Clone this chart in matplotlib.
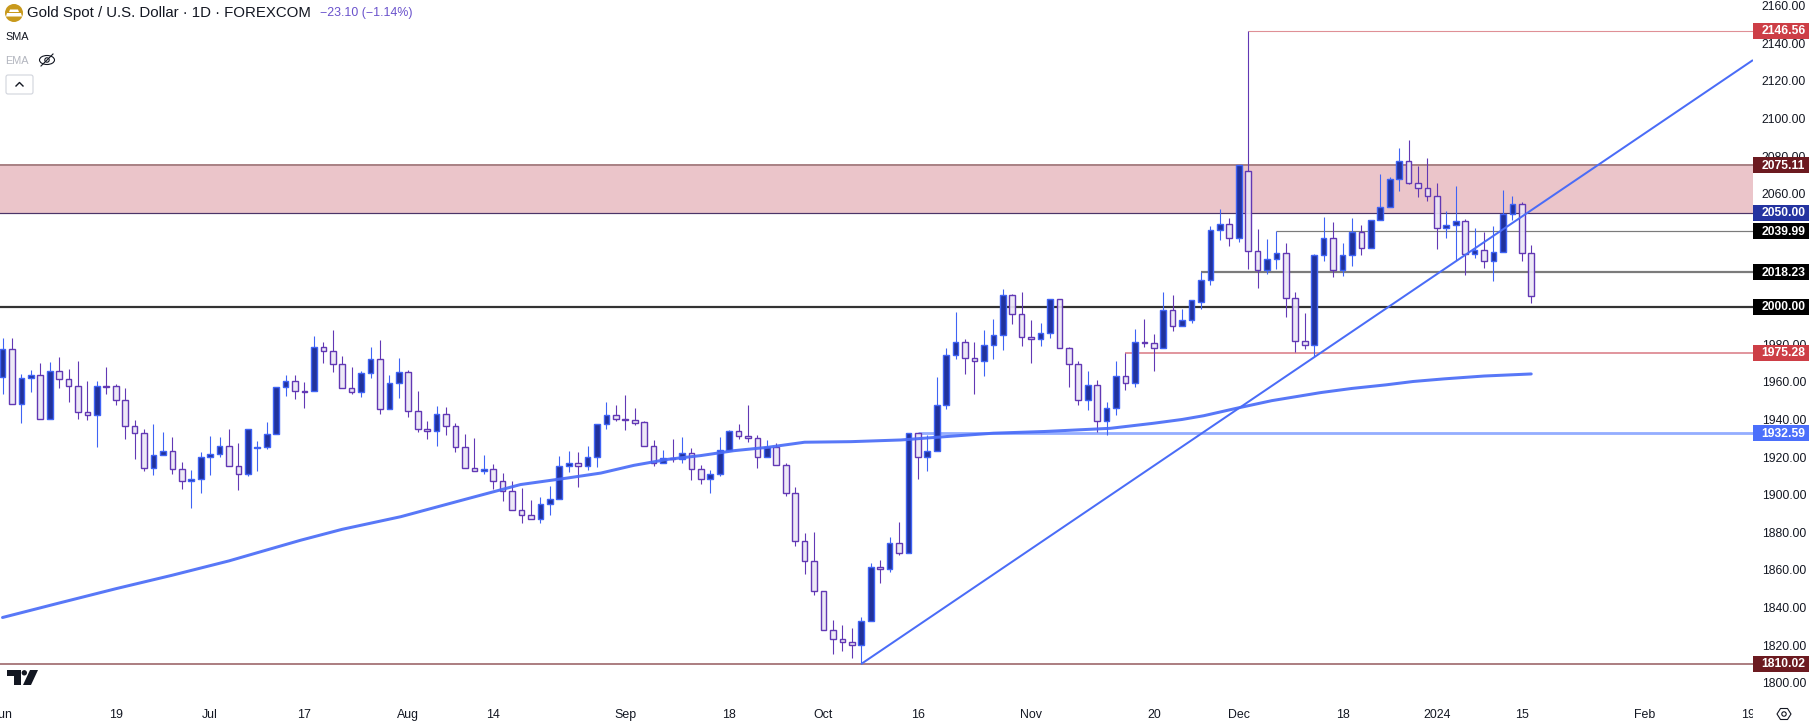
import matplotlib
matplotlib.use("Agg")
import matplotlib.pyplot as plt
from matplotlib.patches import Rectangle, Circle, Polygon, Ellipse, FancyBboxPatch
from matplotlib.transforms import Bbox, TransformedBbox

W, H = 1810, 724
PLOT_R, PLOT_B = 1753, 695

# (body, in candle order from 1 Jun 2023 to 16 Jan 2024)
opens = [1962.4,1977.3,1948.1,1961.9,1963.5,1940.1,1965.6,1961.4,1957.6,1943.8,1942.2,1957.6,1957.6,1950.2,1936.4,1932.6,1914.0,1920.9,1923.1,1913.5,
1907.1,1908.2,1919.9,1921.5,1925.7,1915.1,1910.8,1925.0,1925.2,1932.1,1957.1,1960.3,1955.0,1955.0,1978.4,1976.2,1969.3,1956.6,1954.4,1964.5,
1972.0,1945.4,1959.2,1965.1,1944.3,1934.8,1933.7,1942.7,1936.4,1925.2,1914.0,1912.4,1913.5,1907.1,1901.8,1891.7,1889.1,1886.9,1894.9,1897.5,
1915.1,1916.7,1915.1,1919.9,1937.4,1942.2,1940.1,1939.6,1938.5,1925.7,1916.7,1919.3,1918.8,1922.0,1913.5,1908.2,1910.8,1923.6,1933.7,1931.0,
1930.0,1919.9,1925.2,1915.6,1900.8,1875.2,1864.6,1848.6,1827.9,1823.1,1821.5,1819.9,1832.7,1861.4,1860.3,1874.2,1868.9,1932.6,1919.9,1923.1,
1947.6,1974.1,1981.1,1972.5,1971.0,1979.5,1984.8,2006.0,1995.9,1983.7,1982.6,1985.8,2003.9,1977.9,1969.3,1950.2,1958.2,1939.0,1945.9,1963.0,
1959.2,1981.0,1980.5,1977.9,1998.1,1989.6,1992.8,2002.3,2014.0,2040.6,2043.8,2036.4,2072.0,2029.5,2019.3,2025.2,2028.4,2004.5,1981.6,1979.5,
2027.3,2036.4,2019.3,2027.3,2039.9,2031.0,2046.0,2052.8,2067.7,2077.3,2065.6,2063.0,2058.7,2041.7,2043.3,2045.4,2027.9,2030.0,2024.1,2028.9,
2049.1,2054.4,2028.4]
closes = [1977.3,1948.1,1961.9,1963.5,1940.1,1965.6,1961.4,1957.6,1943.8,1942.2,1957.6,1957.4,1950.2,1936.4,1932.6,1914.0,1920.9,1923.1,1913.5,1907.1,
1908.2,1919.9,1921.5,1925.7,1915.1,1910.8,1934.8,1925.2,1932.1,1957.1,1960.3,1955.0,1954.8,1978.4,1976.2,1969.3,1956.6,1954.4,1964.5,1972.0,
1945.4,1959.2,1965.1,1944.3,1934.8,1933.7,1942.7,1936.4,1925.2,1914.0,1912.4,1913.5,1907.1,1901.8,1891.7,1889.1,1886.9,1894.9,1897.5,1915.1,
1916.7,1915.1,1919.9,1937.4,1942.2,1940.1,1939.9,1938.3,1925.7,1916.7,1919.3,1919.0,1922.0,1913.5,1908.2,1910.8,1923.6,1933.7,1931.0,1930.0,
1919.9,1925.2,1915.6,1900.7,1875.2,1864.6,1848.6,1827.9,1823.1,1821.5,1819.9,1832.7,1861.4,1860.3,1874.2,1868.9,1932.6,1919.9,1923.1,1947.6,
1974.1,1981.1,1972.5,1971.0,1979.5,1984.8,2006.0,1995.9,1983.7,1982.6,1985.8,2003.9,1977.9,1969.3,1950.2,1958.2,1939.0,1945.9,1963.0,1959.2,
1981.0,1980.9,1977.9,1998.1,1989.5,1992.8,2003.4,2014.0,2040.6,2043.8,2036.4,2075.2,2029.5,2019.3,2025.2,2028.4,2004.5,1981.6,1979.5,2027.3,
2036.4,2019.3,2027.3,2039.9,2031.0,2046.0,2052.8,2067.7,2077.3,2065.6,2063.0,2058.7,2041.7,2043.3,2045.4,2027.9,2030.0,2024.1,2028.9,2049.1,
2054.4,2028.4,2005.5]
highs = [1983.5,1983.5,1964.2,1966.3,1970.0,1970.6,1973.2,1966.8,1971.1,1960.5,1960.5,1967.9,1958.7,1956.7,1939.7,1934.8,1937.6,1933.4,1930.7,1917.2,
1913.1,1922.5,1931.2,1930.7,1934.8,1927.3,1934.8,1928.4,1938.7,1957.1,1963.7,1963.5,1959.8,1984.4,1981.2,1987.6,1973.8,1967.9,1965.8,1978.5,
1982.1,1963.5,1972.5,1966.3,1955.0,1939.0,1947.0,1946.5,1938.0,1932.1,1930.0,1920.9,1916.2,1911.4,1907.1,1903.6,1897.0,1898.6,1904.6,1920.6,
1923.1,1922.5,1925.9,1937.4,1949.3,1947.5,1952.9,1945.9,1939.0,1928.9,1923.8,1929.4,1930.7,1924.7,1915.6,1913.0,1930.7,1934.2,1937.4,1947.5,
1931.6,1929.1,1927.3,1916.7,1903.9,1879.5,1880.0,1848.6,1833.4,1830.7,1829.1,1834.8,1863.7,1865.1,1877.4,1885.3,1932.6,1932.6,1931.6,1962.4,
1977.9,1997.0,1982.6,1981.1,1987.4,1993.3,2009.4,2006.6,2007.6,1992.9,1991.3,2003.9,2003.9,1978.4,1970.9,1965.6,1960.8,1949.1,1971.1,1975.4,
1988.0,1993.3,1985.3,2007.6,2006.2,1998.8,2003.4,2018.3,2042.7,2051.8,2047.0,2075.2,2146.56,2041.1,2035.8,2040.1,2033.7,2007.7,1996.5,2027.9,
2047.5,2044.9,2033.7,2047.0,2043.3,2046.0,2070.4,2068.8,2084.2,2088.5,2074.6,2078.9,2065.6,2050.7,2064.0,2046.5,2041.7,2039.9,2042.7,2061.9,
2058.9,2055.5,2032.6]
lows = [1953.7,1948.1,1938.3,1954.8,1940.1,1940.1,1956.9,1949.5,1940.4,1939.9,1925.6,1953.7,1947.9,1929.8,1919.2,1912.8,1910.7,1920.9,1911.2,1903.2,
1893.1,1901.1,1910.7,1920.2,1915.1,1902.7,1910.1,1912.8,1924.5,1932.1,1952.7,1951.1,1946.3,1955.0,1970.0,1965.2,1956.6,1953.7,1952.1,1962.1,
1943.1,1945.4,1951.6,1941.5,1933.5,1929.8,1926.1,1931.9,1922.9,1914.0,1912.4,1911.2,1903.2,1896.8,1891.7,1885.2,1886.9,1885.2,1889.2,1897.5,
1912.3,1904.3,1913.3,1914.7,1934.9,1939.4,1934.6,1937.3,1925.7,1915.4,1916.7,1917.6,1917.0,1907.8,1905.7,1901.1,1910.1,1923.6,1929.8,1928.2,
1914.4,1919.9,1915.6,1899.5,1872.9,1858.0,1846.7,1827.9,1815.5,1817.1,1813.4,1810.0,1832.7,1853.3,1859.1,1868.1,1868.9,1908.6,1912.8,1923.1,
1945.8,1972.4,1964.4,1953.8,1963.3,1972.4,1977.2,1991.0,1979.3,1970.2,1979.1,1983.4,1977.9,1957.0,1947.9,1945.2,1933.5,1932.0,1942.6,1955.9,
1957.0,1978.7,1966.0,1977.9,1987.3,1989.6,1991.5,1999.0,2011.7,2035.6,2032.0,2034.1,2020.2,2010.1,2017.6,2020.2,1994.7,1976.1,1977.7,1973.6,
2024.5,2016.0,2016.5,2021.8,2027.7,2031.0,2046.0,2052.8,2061.7,2065.1,2058.5,2056.4,2030.9,2036.7,2025.0,2017.0,2026.1,2020.8,2013.8,2028.9,
2046.1,2024.5,2002.1]

sma_x = [0,6,12,18,24,28,31.6,36,42.2,49.3,54.9,59.9,63.4,66.9,70.5,74,77.5,81.1,85,89.9,95.2,100,105,110.4,117.4,122,125,127.3,130.9,134.5,139.7,143,146.6,149.5,152.8,157,162]
sma_y = [1834.7,1842.4,1850.0,1857.2,1864.8,1870.6,1875.8,1881.6,1888.3,1897.9,1905.4,1908.9,1911.5,1915.6,1918.8,1920.8,1923.4,1925.2,1927.9,1928.2,1929.1,1930.9,1932.7,1933.6,1935.3,1938.0,1940.0,1942.0,1946.1,1950.0,1954.3,1956.5,1958.4,1960.2,1961.6,1963.1,1964.2]

trend_x = [91, 185.5]
trend_y = [1810.02, 2131.1]

zone_low, zone_high = 2050.00, 2075.11

level_prices = [2146.56, 2075.11, 2050.00, 2039.99, 2018.23, 2000.00, 1975.28, 1932.59, 1810.02]
level_starts = [132, -1, -1, 135, 127, -1, 119, 97, -1]
level_colors = ['#df9096', '#aa8386', '#4b3468', '#7b7b7b', '#7b7b7b', '#333333', '#e0929a', '#94adff', '#ad8083']
level_widths = [1.1, 2.0, 1.2, 1.2, 2.2, 2.2, 1.9, 2.8, 2.0]
badge_colors = ['#cd3e46', '#6c1a20', '#2433a0', '#000000', '#000000', '#000000', '#cd3e46', '#4b6ffb', '#6c1a20']

y_ticks = list(range(1800, 2161, 20))
x_tick_pos = [0, 12, 22, 32, 43, 52, 66, 77, 87, 97, 109, 122, 131, 142, 152, 161, 174, 185]
x_tick_labels = ['Jun', '19', 'Jul', '17', 'Aug', '14', 'Sep', '18', 'Oct', '16', 'Nov', '20', 'Dec', '18', '2024', '15', 'Feb', '19']

FONT = 'Liberation Sans'
plt.rcParams['font.family'] = [FONT, 'DejaVu Sans']
TXT = '#131722'
px = 0.72
X0, X1 = -0.265, 185.5

fig = plt.figure(figsize=(W / 100, H / 100), dpi=100, facecolor='white')
ax = fig.add_axes([0, 1 - PLOT_B / H, PLOT_R / W, PLOT_B / H])
ax.set_facecolor('none')
for s in ax.spines.values():
    s.set_visible(False)

ax.axhspan(zone_low, zone_high, color='#ebc5ca', lw=0, zorder=1)
for p, st, c, lw in zip(level_prices, level_starts, level_colors, level_widths):
    ax.hlines(p, st, X1, color=c, lw=lw * px, zorder=1.5)

UP_FILL, UP_EDGE, DN_FILL, DN_EDGE = '#21329c', '#3f63f5', (0.925, 0.905, 0.96, 0.9), '#6238b4'
for i, (o, h, l, c) in enumerate(zip(opens, highs, lows, closes)):
    up = c >= o
    top, bot = max(o, c), min(o, c)
    edge = UP_EDGE if up else DN_EDGE
    ax.vlines(i, top, h, color=edge, lw=1.1 * px, zorder=2)
    ax.vlines(i, l, bot, color=edge, lw=1.1 * px, zorder=2)
    ax.bar(i, top - bot, bottom=bot, width=0.6, facecolor=UP_FILL if up else DN_FILL,
           edgecolor=edge, linewidth=1.4 * px, zorder=3)

ax.plot(sma_x, sma_y, color='#4a6cf7', lw=3.0 * px, alpha=0.92, zorder=4, solid_capstyle='round', solid_joinstyle='round')
ax.plot(trend_x, trend_y, color='#4a6cf7', lw=2.0 * px, zorder=4, solid_capstyle='butt')

ax.yaxis.tick_right()
ax.set_yticks(y_ticks)
ax.set_yticklabels([f'{v:.2f}' for v in y_ticks])
ax.tick_params(axis='y', length=0, pad=6.3, labelsize=8.7, labelcolor=TXT)
ax.set_xticks(x_tick_pos)
ax.set_xticklabels(x_tick_labels)
ax.tick_params(axis='x', length=0, pad=10, labelsize=8.9, labelcolor=TXT)
ax.set_xlim(X0, X1)
ax.set_ylim(1793.5, 2163.03)
clip = TransformedBbox(Bbox([[0, 0], [PLOT_R / W, 1]]), fig.transFigure)
for lab in ax.get_xticklabels():
    lab.set_clip_box(clip)
    lab.set_clip_on(True)

badge_h = 16 / 1.8806
badge_w = 56 / PLOT_R
tr = ax.get_yaxis_transform()
for p, c in zip(level_prices, badge_colors):
    ax.add_patch(Rectangle((1.0, p - badge_h / 2), badge_w, badge_h, transform=tr,
                           facecolor=c, edgecolor='none', clip_on=False, zorder=10))
    ax.text(1 + 8.7 / PLOT_R, p - 0.2, f'{p:.2f}', transform=tr, color='white', fontsize=8.7,
            fontweight='bold', va='center', ha='left', clip_on=False, zorder=11)

# pixel overlay for legend decorations
ov = fig.add_axes([0, 0, 1, 1], facecolor='none')
ov.set_xlim(0, W)
ov.set_ylim(H, 0)
ov.axis('off')
ov.set_zorder(20)

ov.add_patch(Circle((14, 13), 9, facecolor='#c8991c', edgecolor='none'))
ov.add_patch(Polygon([[10, 9.5], [18, 9.5], [19, 12], [9, 12]], facecolor='white', edgecolor='none'))
ov.add_patch(Polygon([[7, 13], [21, 13], [22, 16.5], [6, 16.5]], facecolor='white', edgecolor='none'))
ov.text(27, 13, 'Gold Spot / U.S. Dollar \u00b7 1D \u00b7 FOREXCOM', fontsize=10.8, color=TXT, va='center', ha='left')
ov.text(320, 13, '\u221223.10 (\u22121.14%)', fontsize=8.9, color='#6a52cc', va='center', ha='left')
ov.text(5, 37, 'SMA', fontsize=7.8, color=TXT, va='center', ha='left')
ov.text(5, 60.5, 'EMA', fontsize=7.8, color='#b2b5be', va='center', ha='left')
ov.add_patch(Ellipse((47, 60), 15, 9, facecolor='none', edgecolor=TXT, lw=0.8))
ov.add_patch(Circle((47, 60), 2.2, facecolor='none', edgecolor=TXT, lw=0.8))
ov.plot([41, 53], [66, 54], color=TXT, lw=0.8)
ov.add_patch(FancyBboxPatch((6, 75), 27, 19, boxstyle='round,pad=0,rounding_size=2', facecolor='white', edgecolor='#d1d4dc', lw=0.8))
ov.plot([16, 19.5, 23], [86, 82.5, 86], color=TXT, lw=1.0)

# TradingView mark
ov.add_patch(Polygon([[7.3, 670], [20.7, 670], [20.7, 685], [13.5, 685], [13.5, 675.6], [7.3, 675.6]], facecolor=TXT, edgecolor='none'))
ov.add_patch(Circle((24.3, 672.8), 2.7, facecolor=TXT, edgecolor='none'))
ov.add_patch(Polygon([[30, 670], [38, 670], [31, 685], [23, 685]], facecolor=TXT, edgecolor='none'))

# settings glyph
ov.add_patch(Polygon([[1777, 714], [1780.5, 708.5], [1787.5, 708.5], [1791, 714], [1787.5, 719.5], [1780.5, 719.5]],
                     facecolor='none', edgecolor=TXT, lw=0.8))
ov.add_patch(Circle((1784, 714), 2.2, facecolor='none', edgecolor=TXT, lw=0.8))

fig.savefig('out.png', dpi=100)
